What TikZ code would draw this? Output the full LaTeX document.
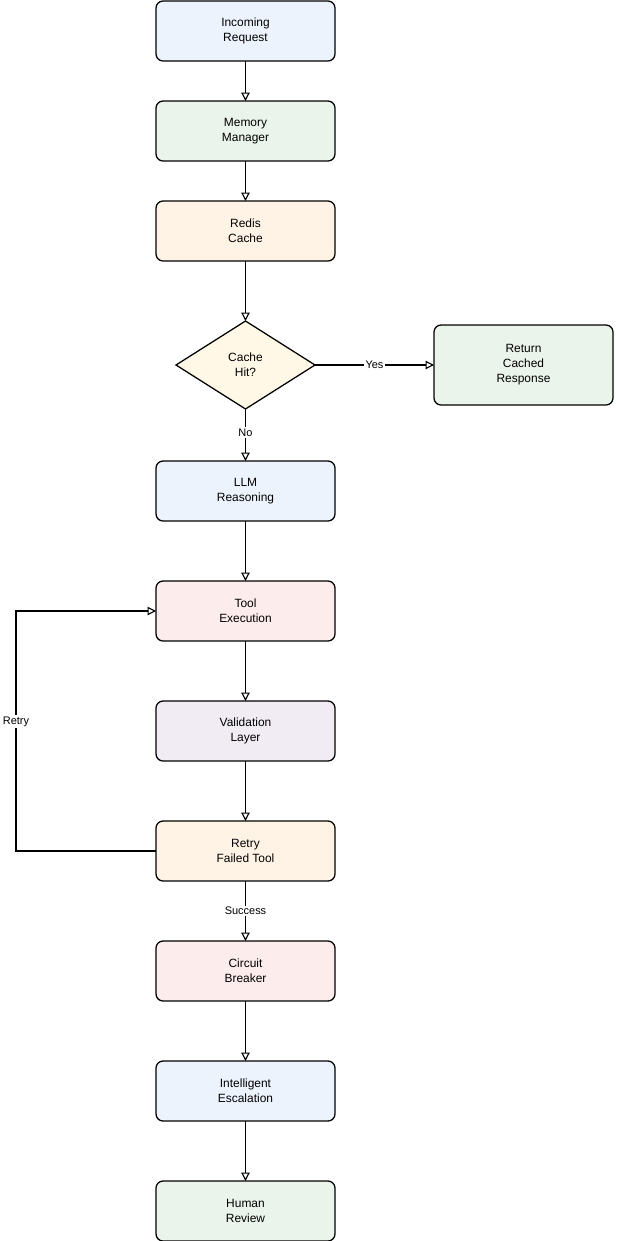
\documentclass[tikz,border=0pt]{standalone}
\usepackage{fontspec}
\setmainfont{Liberation Sans}
\usepackage{xcolor}
\usepackage{tikz}
\usetikzlibrary{shapes.geometric,arrows.meta,positioning}

\definecolor{fillblue}{HTML}{EDF3FC}
\definecolor{fillgreen}{HTML}{EBF4EA}
\definecolor{fillorange}{HTML}{FFF3E6}
\definecolor{fillyellow}{HTML}{FFF8E6}
\definecolor{fillred}{HTML}{FCEDEC}
\definecolor{fillpurple}{HTML}{F1EBF4}

\begin{document}
\begin{tikzpicture}[
  node distance=1.5cm,
  box/.style={rectangle, draw=black, rounded corners=5pt, line width=0.9pt,
              outer sep=0pt,
              minimum width=4.475cm, minimum height=1.5cm, align=center,
              font=\fontsize{8.5}{10.6}\selectfont},
  bluebox/.style={box, fill=fillblue},
  greenbox/.style={box, fill=fillgreen},
  orangebox/.style={box, fill=fillorange},
  redbox/.style={box, fill=fillred},
  purplebox/.style={box, fill=fillpurple},
  arr/.style={-{Triangle[open, length=6pt, width=6pt]}, line width=0.8pt},
  lbl/.style={font=\fontsize{7.8}{9}\selectfont, fill=white, inner sep=1pt}
]
\useasboundingbox (0,0) rectangle (15.425,-31.025);

% Request path
\node[bluebox]   (req)   at (6.1375,-0.775) {Incoming\\Request};
\node[greenbox,  below=1.0cm of req]    (mem)   {Memory\\Manager};
\node[orangebox, below=1.0cm of mem]    (redis) {Redis\\Cache};

% Cache check
\node[diamond, draw, line width=0.9pt, fill=fillyellow, inner sep=0pt,
      outer sep=0pt, minimum width=3.475cm, minimum height=2.2cm,
      align=center, font=\fontsize{8.5}{10.6}\selectfont,
      below=1.5cm of redis] (hit) {Cache\\Hit?};
\node[greenbox, minimum height=2.0cm, right=2.975cm of hit] (cached) {Return\\Cached\\Response};

% Reasoning and tools
\node[bluebox,   below=1.3cm of hit] (llm)   {LLM\\Reasoning};
\node[redbox,    below=of llm]       (tool)  {Tool\\Execution};
\node[purplebox, below=of tool]      (valid) {Validation\\Layer};
\node[orangebox, below=of valid]     (retry) {Retry\\Failed Tool};

% Escalation
\node[redbox,    below=of retry]     (breaker) {Circuit\\Breaker};
\node[bluebox,   below=of breaker]   (esc)     {Intelligent\\Escalation};
\node[greenbox,  below=of esc]       (human)   {Human\\Review};

% Arrows
\draw[arr] (req)   -- (mem);
\draw[arr] (mem)   -- (redis);
\draw[arr] (redis) -- (hit);
\draw[arr] (hit)   -- node[lbl]{Yes} (cached);
\draw[arr] (hit)   -- node[lbl, pos=0.45]{No} (llm);
\draw[arr] (llm)   -- (tool);
\draw[arr] (tool)  -- (valid);
\draw[arr] (valid) -- (retry);
\draw[arr] (retry.west) -- ++(-3.5,0) |- node[lbl, pos=0.27]{Retry} (tool.west);
\draw[arr] (retry) -- node[lbl]{Success} (breaker);
\draw[arr] (breaker) -- (esc);
\draw[arr] (esc)   -- (human);

\end{tikzpicture}
\end{document}
